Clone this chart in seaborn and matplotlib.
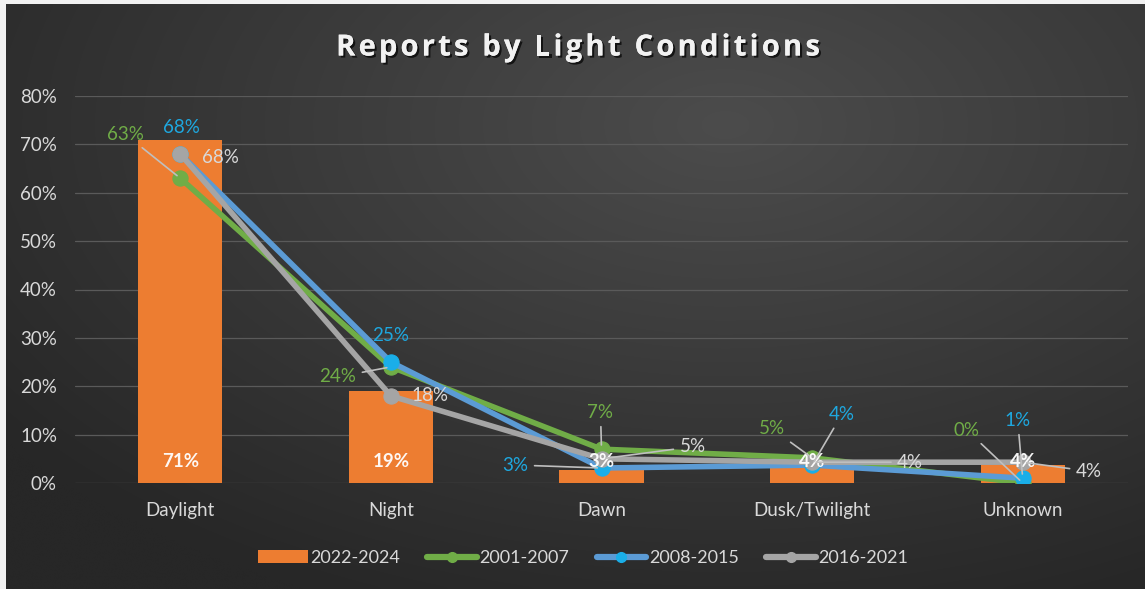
import numpy as np
import seaborn as sns
import matplotlib.pyplot as plt
import matplotlib.patheffects as pe
from matplotlib.lines import Line2D
from matplotlib.patches import Patch
from matplotlib.font_manager import FontProperties

# === Data ===
categories = ["Daylight", "Night", "Dawn", "Dusk/Twilight", "Unknown"]
bars_2022_2024 = [0.71, 0.19, 0.027, 0.036, 0.038]
line_2001_2007 = [0.63, 0.24, 0.07, 0.052, 0.0]
line_2008_2015 = [0.68, 0.25, 0.031, 0.037, 0.01]
line_2016_2021 = [0.68, 0.18, 0.05, 0.043, 0.043]
yticks = [0, 0.1, 0.2, 0.3, 0.4, 0.5, 0.6, 0.7, 0.8]
title = "Reports by Light Conditions"

ORANGE = "#ED7D31"
GREEN = "#70AD47"
BLUE = "#5B9BD5"
BLUE_MK = "#1AAEE8"
GRAY = "#A5A5A5"
TXT = "#D9D9D9"
LEADER = "#BFBFBF"
FS = 13.5

sns.set_theme(style="dark")
plt.rcParams["font.family"] = ["Lato", "DejaVu Sans"]

fig = plt.figure(figsize=(11.45, 5.89), dpi=100)
fig.patch.set_facecolor("#F2F2F2")

# === Dark gradient background ===
bg = fig.add_axes([6 / 1145, 0, 1 - 6 / 1145, 1 - 4 / 589])
gx, gy = np.meshgrid(np.linspace(0, 1139, 300), np.linspace(0, 585, 160))
r = np.sqrt(((gx - 720) / 900) ** 2 + ((gy - 120) / 520) ** 2)
shade = np.clip(1 - r, 0, 1)
dark, light = 0x27 / 255, 0x4C / 255
img = dark + (light - dark) * shade
bg.imshow(np.dstack([img, img, img]), aspect="auto", interpolation="bicubic")
bg.axis("off")

# === Main chart ===
ax = fig.add_axes([75 / 1145, (589 - 483) / 589, 1053 / 1145, 387 / 589])
ax.set_facecolor("none")
x = np.arange(len(categories))

sns.barplot(x=categories, y=bars_2022_2024, color=ORANGE, width=0.4,
            saturation=1, linewidth=0, edgecolor="none", ax=ax, zorder=2)

series = [(line_2001_2007, GREEN, GREEN), (line_2008_2015, BLUE, BLUE_MK),
          (line_2016_2021, GRAY, GRAY)]
for vals, col, mk in series:
    sns.lineplot(x=x, y=vals, color=col, lw=4, marker="o", markersize=11,
                 markerfacecolor=mk, markeredgecolor=mk, sort=False, ax=ax, zorder=3)

ax.set_xlim(-0.5, 4.5)
ax.set_ylim(0, 0.8)
ax.set_yticks(yticks)
ax.set_yticklabels([f"{t:.0%}" for t in yticks])
ax.grid(axis="y", color="#5A5A5A", lw=0.9)
ax.grid(axis="x", visible=False)
ax.set_axisbelow(True)
for s in ax.spines.values():
    s.set_visible(False)
ax.tick_params(axis="both", length=0, colors=TXT, labelsize=FS)
ax.tick_params(axis="y", pad=13)
ax.tick_params(axis="x", pad=14)
ax.set_xlabel("")
ax.set_ylabel("")

# === Bar labels (inside base) ===
for i, v in enumerate(bars_2022_2024):
    ax.text(i, 0.044, f"{v:.0%}", ha="center", va="center", color="white",
            fontsize=FS, fontweight="bold", zorder=5, alpha=0.95)

# === Line labels: (series values, colour, index, dx, dy, leader) in pixels ===
label_specs = [
    (line_2001_2007, GREEN, 0, -55, 44, True),
    (line_2008_2015, "#1EA8E0", 0, 1, 27, False),
    (line_2016_2021, TXT, 0, 40, -3, False),
    (line_2001_2007, GREEN, 1, -53, -10, True),
    (line_2008_2015, "#1EA8E0", 1, 0, 27, False),
    (line_2016_2021, TXT, 1, 39, 0, False),
    (line_2001_2007, GREEN, 2, -1, 37, True),
    (line_2008_2015, "#1EA8E0", 2, -86, 3, True),
    (line_2016_2021, TXT, 2, 91, 12, True),
    (line_2001_2007, GREEN, 3, -40, 29, True),
    (line_2008_2015, "#1EA8E0", 3, 30, 51, True),
    (line_2016_2021, TXT, 3, 98, 0, True),
    (line_2001_2007, GREEN, 4, -56, 53, True),
    (line_2008_2015, "#1EA8E0", 4, -5, 58, True),
    (line_2016_2021, TXT, 4, 66, -9, True),
]
for vals, col, i, dx, dy, leader in label_specs:
    arrow = dict(arrowstyle="-", color=LEADER, lw=1.2, shrinkA=2, shrinkB=3) if leader else None
    ax.annotate(f"{vals[i]:.0%}", xy=(i, vals[i]), xytext=(dx, dy),
                textcoords="offset pixels", ha="center", va="center",
                color=col, fontsize=FS, arrowprops=arrow, zorder=6)

# === Title (letter-spaced, drawn char by char) ===
tprops = FontProperties(family=["Open Sans", "DejaVu Sans"], weight="bold", size=21)
renderer = fig.canvas.get_renderer()
track = 3.2
adv = lambda s: renderer.get_text_width_height_descent(s, tprops, ismath=False)[0]
total = adv(title) + track * (len(title) - 1)
x0 = 578 - total / 2
shadow = [pe.withSimplePatchShadow(offset=(1.5, -1.5), shadow_rgbFace="black", alpha=0.7), pe.Normal()]
for k, ch in enumerate(title):
    if ch == " ":
        continue
    px = x0 + adv(title[:k]) + track * k
    fig.text(px / 1145, 1 - 48 / 589, ch, ha="left", va="center", color="#F2F2F2",
             fontproperties=tprops, path_effects=shadow)

# === Legend ===
handles = [
    Patch(facecolor=ORANGE, edgecolor="none"),
    Line2D([], [], color=GREEN, lw=4.5, marker="o", markersize=7, markerfacecolor=GREEN, markeredgecolor=GREEN),
    Line2D([], [], color=BLUE, lw=4.5, marker="o", markersize=7, markerfacecolor=BLUE_MK, markeredgecolor=BLUE_MK),
    Line2D([], [], color=GRAY, lw=4.5, marker="o", markersize=7, markerfacecolor=GRAY, markeredgecolor=GRAY),
]
fig.legend(handles, ["2022-2024", "2001-2007", "2008-2015", "2016-2021"],
           loc="center", bbox_to_anchor=(583 / 1145, 1 - 558 / 589), ncol=4, frameon=False,
           fontsize=13, labelcolor=TXT, handlelength=2.75, handleheight=0.7,
           handletextpad=0.15, columnspacing=1.5)

fig.savefig("out.png", dpi=100, facecolor=fig.get_facecolor())
